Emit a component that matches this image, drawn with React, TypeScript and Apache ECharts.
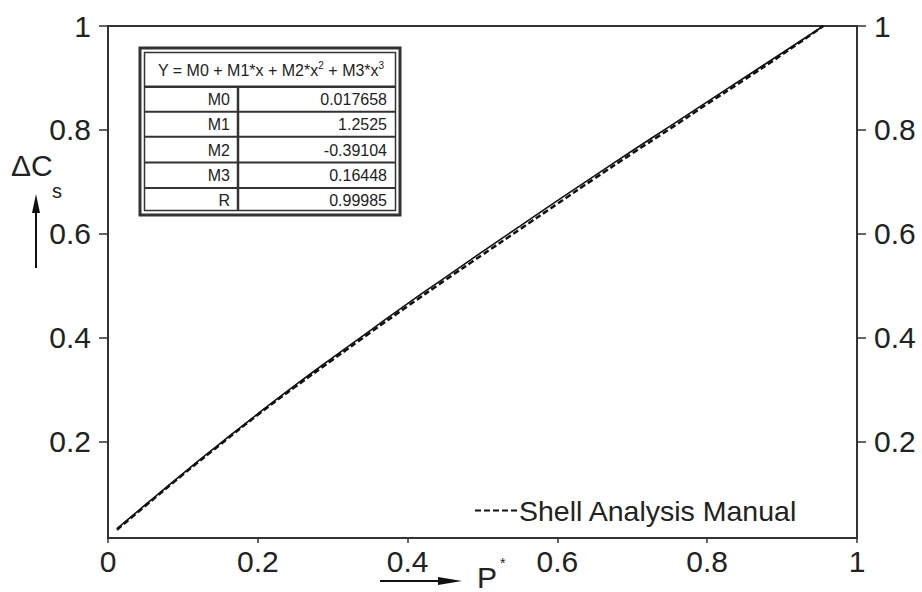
import React, { useEffect, useRef } from "react";
import * as echarts from "echarts";

const pX = [0.012, 0.05, 0.1, 0.15, 0.2, 0.25, 0.3, 0.35, 0.4, 0.45, 0.5, 0.55, 0.6, 0.65, 0.7, 0.75, 0.8, 0.85, 0.9, 0.955];
const solidY = [0.033, 0.079, 0.139, 0.197, 0.254, 0.309, 0.362, 0.414, 0.466, 0.516, 0.566, 0.615, 0.664, 0.712, 0.76, 0.807, 0.854, 0.901, 0.948, 1.0];
const dashedY = [0.031, 0.077, 0.137, 0.195, 0.252, 0.306, 0.358, 0.41, 0.461, 0.511, 0.56, 0.609, 0.658, 0.707, 0.755, 0.802, 0.85, 0.897, 0.945, 1.0];
const yTicks = [0.2, 0.4, 0.6, 0.8, 1];
const tableLabels = ["M0", "M1", "M2", "M3", "R"];
const tableValues = ["0.017658", "1.2525", "-0.39104", "0.16448", "0.99985"];
const legendName = "Shell Analysis Manual";

const FONT = "'Liberation Sans', Arial, Helvetica, sans-serif";
const INK = "#222";

export default function App() {
  const ref = useRef<HTMLDivElement>(null);
  useEffect(() => {
    if (!ref.current) return;
    const chart = echarts.init(ref.current, undefined, { renderer: "svg" });

    const rowLines = [111.7, 136.7, 162.5, 188];
    const rowCenters = [99.5, 124.5, 150, 175.5, 200];
    const tableEls: any[] = [
      { type: "rect", shape: { x: 140, y: 48, width: 260, height: 167 }, style: { fill: "#fff", stroke: "#333", lineWidth: 3 } },
      { type: "rect", shape: { x: 144.5, y: 52.5, width: 251, height: 158 }, style: { fill: "none", stroke: "#333", lineWidth: 1.5 } },
      { type: "line", shape: { x1: 144.5, y1: 86.7, x2: 395.5, y2: 86.7 }, style: { stroke: "#333", lineWidth: 2.5 } },
      { type: "line", shape: { x1: 238, y1: 86.7, x2: 238, y2: 210.5 }, style: { stroke: "#333", lineWidth: 2.5 } },
      ...rowLines.map((y) => ({ type: "line", shape: { x1: 144.5, y1: y, x2: 395.5, y2: y }, style: { stroke: "#333", lineWidth: 2 } })),
      {
        type: "text",
        x: 271,
        y: 70,
        style: {
          text: "{a|Y = M0 + M1*x + M2*x}{s|2}{a| + M3*x}{s|3}",
          align: "center",
          verticalAlign: "middle",
          rich: {
            a: { fontSize: 16, fontFamily: FONT, fill: INK },
            s: { fontSize: 10, fontFamily: FONT, fill: INK, verticalAlign: "top", padding: [0, 0, 9, 0] },
          },
        },
      },
      ...tableLabels.map((t, i) => ({
        type: "text", x: 230, y: rowCenters[i],
        style: { text: t, align: "right", verticalAlign: "middle", fontSize: 16, fontFamily: FONT, fill: INK },
      })),
      ...tableValues.map((t, i) => ({
        type: "text", x: 387, y: rowCenters[i],
        style: { text: t, align: "right", verticalAlign: "middle", fontSize: 16, fontFamily: FONT, fill: INK },
      })),
    ];

    const option: any = {
      animation: false,
      backgroundColor: "#fff",
      grid: { left: 108, right: 65, top: 26, bottom: 54, containLabel: false },
      legend: {
        data: [legendName],
        left: 469,
        top: 491,
        itemWidth: 42,
        itemHeight: 14,
        itemGap: 5,
        itemStyle: { opacity: 0 },
        textStyle: { fontSize: 28.5, fontFamily: FONT, color: INK, padding: [0, 0, 0, -3] },
      },
      xAxis: [
        {
          type: "value", min: 0, max: 1, interval: 0.2, position: "bottom",
          axisLine: { show: true, onZero: false, lineStyle: { color: "#333", width: 2 } },
          axisTick: { show: true, inside: false, length: 5, lineStyle: { color: "#333", width: 1.5 } },
          axisLabel: { fontSize: 30, fontFamily: FONT, color: INK, margin: 8, formatter: (v: number) => String(+v.toFixed(1)) },
          splitLine: { show: false },
        },
        {
          type: "value", min: 0, max: 1, position: "top",
          axisLine: { show: true, onZero: false, lineStyle: { color: "#333", width: 2 } },
          axisTick: { show: false }, axisLabel: { show: false }, splitLine: { show: false },
        },
      ],
      yAxis: [
        {
          type: "value", min: 0.015, max: 1, position: "left",
          axisLine: { show: true, onZero: false, lineStyle: { color: "#333", width: 2 } },
          axisTick: { show: true, inside: false, length: 9, customValues: yTicks, lineStyle: { color: "#333", width: 1.5 } },
          axisLabel: { fontSize: 30, fontFamily: FONT, color: INK, margin: 17, customValues: yTicks, formatter: (v: number) => String(+v.toFixed(1)) },
          splitLine: { show: false },
        },
        {
          type: "value", min: 0.015, max: 1, position: "right",
          axisLine: { show: true, onZero: false, lineStyle: { color: "#333", width: 2 } },
          axisTick: { show: true, inside: false, length: 9, customValues: yTicks, lineStyle: { color: "#333", width: 1.5 } },
          axisLabel: { fontSize: 30, fontFamily: FONT, color: INK, margin: 17, customValues: yTicks, formatter: (v: number) => String(+v.toFixed(1)) },
          splitLine: { show: false },
        },
      ],
      series: [
        {
          name: "Fit",
          type: "line",
          data: pX.map((x, i) => [x, solidY[i]]),
          showSymbol: false,
          symbol: "none",
          smooth: true,
          lineStyle: { color: "#111", width: 1.6, type: "solid" },
          z: 3,
        },
        {
          name: legendName,
          type: "line",
          data: pX.map((x, i) => [x, dashedY[i]]),
          showSymbol: false,
          symbol: "none",
          smooth: true,
          itemStyle: { color: "#111" },
          lineStyle: { color: "#111", width: 2.5, type: [6, 3] },
          z: 2,
        },
      ],
      graphic: [
        { type: "text", x: 11, y: 150, style: { text: "ΔC", fontSize: 30, fontFamily: FONT, fill: INK } },
        { type: "text", x: 52, y: 181, style: { text: "s", fontSize: 20, fontFamily: FONT, fill: INK } },
        { type: "line", shape: { x1: 36, y1: 268, x2: 36, y2: 205 }, style: { stroke: "#111", lineWidth: 2 } },
        { type: "polygon", shape: { points: [[36, 194], [32, 213], [40, 213]] }, style: { fill: "#111" } },
        { type: "line", shape: { x1: 380, y1: 581, x2: 448, y2: 581 }, style: { stroke: "#111", lineWidth: 2 } },
        { type: "polygon", shape: { points: [[462, 581], [438, 577], [438, 585]] }, style: { fill: "#111" } },
        { type: "text", x: 477, y: 562, style: { text: "P", fontSize: 30, fontFamily: FONT, fill: INK } },
        { type: "text", x: 500, y: 556, style: { text: "*", fontSize: 14, fontFamily: FONT, fill: INK } },
        ...tableEls,
      ],
    };
    chart.setOption(option);
    return () => chart.dispose();
  }, []);
  return <div ref={ref} style={{ position: "fixed", left: 0, top: 0, width: 922, height: 592, background: "#fff" }} />;
}
